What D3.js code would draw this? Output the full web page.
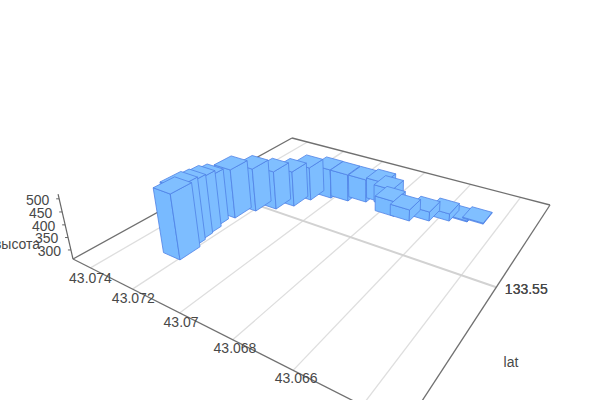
<!DOCTYPE html>
<html><head><meta charset="utf-8"><style>html,body{margin:0;background:#fff}svg{display:block}text{font-family:"Liberation Sans",Arial,sans-serif;font-size:14px;fill:#484848}</style></head>
<body><svg id="c" width="600" height="400"></svg>
<script src="https://cdn.jsdelivr.net/npm/d3@7"></script>
<script>
// Data
const lats=[43.07231,43.07248,43.07256,43.07261,43.07274,43.07258,43.07227,43.07173,43.07130,43.07104,43.07047,43.06980,43.06918,43.06856,43.06817,43.06780,43.06718,43.06658,43.06598,43.06542,43.06489];
const lngs=[133.53144,133.53360,133.53582,133.53828,133.54092,133.54638,133.55040,133.55304,133.55574,133.55940,133.56216,133.56294,133.56444,133.56594,133.56540,133.56252,133.56258,133.56450,133.56642,133.56786,133.56870];
const heights=[520,517,505,497,477,470,447,427,415,408,391,381,363,354,340,328,311,302,294,267,267];
const latTicks=[43.074,43.072,43.07,43.068,43.066,43.064];
const latLabels=["43.074","43.072","43.07","43.068","43.066"];
const lngTicks=[133.55];
const heightTicks=[300,350,400,450,500];

// Scales: data to unit box
const U=d3.scaleLinear().domain([43.0749,43.0629]).range([0,1]);
const V=d3.scaleLinear().domain([133.5198,133.5798]).range([0,1]);
const Z=d3.scaleLinear().domain([263,518]).range([0,1]);

// Camera: floor quad corners and vertical vanishing point
const [x0,y0]=[73,259],[x1,y1]=[405,427],[x2,y2]=[550,205],[x3,y3]=[292,138];
const dx1=x1-x2,dx2=x3-x2,sx=x0-x1+x2-x3,dy1=y1-y2,dy2=y3-y2,sy=y0-y1+y2-y3;
const den=dx1*dy2-dx2*dy1,g=(sx*dy2-dx2*sy)/den,h=(dx1*sy-sx*dy1)/den;
const a=x1-x0+g*x1,b=x3-x0+h*x3,c=x0,d=y1-y0+g*y1,e=y3-y0+h*y3,f=y0;
const vx=373,vy=1565,tu=-0.0474;
function P(u,v,z=0){const t=z*tu,w=g*u+h*v+1+t;return [(a*u+b*v+c+t*vx)/w,(d*u+e*v+f+t*vy)/w];}
function inv(x,y){const A=a-x*g,B=b-x*h,C=x-c,D=d-y*g,E=e-y*h,F=y-f,dd=A*E-B*D;return [(C*E-B*F)/dd,(A*F-C*D)/dd];}
const nadir=inv(vx,vy);

const svg=d3.select('#c');
const seg=(p,q,col,wd)=>svg.append('line').attr('x1',p[0]).attr('y1',p[1]).attr('x2',q[0]).attr('y2',q[1]).attr('stroke',col).attr('stroke-width',wd);

// Floor grid
latTicks.forEach(t=>seg(P(U(t),0),P(U(t),1),'#dedede',1.3));
lngTicks.forEach(t=>seg(P(0,V(t)),P(1,V(t)),'#d2d2d2',2));
// Floor frame
[[0,0,0,1],[0,1,1,1],[1,1,1,0],[1,0,0,0]].forEach(k=>seg(P(k[0],k[1]),P(k[2],k[3]),'#707070',1.3));
// Height axis
seg(P(0,0,0),P(0,0,1),'#666',1.2);
heightTicks.forEach(t=>{const q=P(0,0,Z(t));seg(q,[q[0]-3,q[1]],'#666',1);
  svg.append('text').attr('x',q[0]-21.5).attr('y',q[1]+2).attr('text-anchor','middle').attr('dominant-baseline','middle').text(t);});
// Bars
const hu=0.032,hv=0.038;
const bars=d3.range(lats.length).map(i=>({u:U(lats[i]),v:V(lngs[i]),z:Z(heights[i])}))
  .sort((m,n)=>d3.descending(Math.hypot(m.u-nadir[0],m.v-nadir[1]),Math.hypot(n.u-nadir[0],n.v-nadir[1])));
const line=d3.line();
const edge='#4f82e6';
const G=svg.append('g').attr('stroke',edge).attr('stroke-width',0.8).attr('stroke-linejoin','round');
bars.forEach(m=>{
  const us=m.u-hu,ub=m.u+hu,vs=m.v-hv,vb=m.v+hv;
  const q=(A)=>line(A)+'Z';
  G.append('path').attr('fill','#78baff').attr('d',q([P(us,vs,0),P(ub,vs,0),P(ub,vs,m.z),P(us,vs,m.z)]));
  G.append('path').attr('fill','#7dbdff').attr('d',q([P(ub,vs,0),P(ub,vb,0),P(ub,vb,m.z),P(ub,vs,m.z)]));
  G.append('path').attr('fill','#80bfff').attr('d',q([P(us,vs,m.z),P(ub,vs,m.z),P(ub,vb,m.z),P(us,vb,m.z)]));
});
// Lat labels
latLabels.forEach((s,i)=>{const u=U(latTicks[i]),q=P(u,0);
  svg.append('text').attr('x',q[0]-0.3+4.5*u).attr('y',q[1]+11.2-3*u).attr('text-anchor','middle').attr('dominant-baseline','middle').text(s);});
// Lng label is painted twice in the reference
lngTicks.forEach(t=>{const q=P(1,V(t));for(let i=0;i<2;i++)
  svg.append('text').attr('x',q[0]+30).attr('y',q[1]+3).attr('text-anchor','middle').attr('dominant-baseline','middle').text(t);});
svg.append('text').attr('x',511).attr('y',363).attr('text-anchor','middle').attr('dominant-baseline','middle').text('lat');
svg.append('text').attr('x',17).attr('y',245).attr('text-anchor','middle').attr('dominant-baseline','middle').text('высота');
</script></body></html>
